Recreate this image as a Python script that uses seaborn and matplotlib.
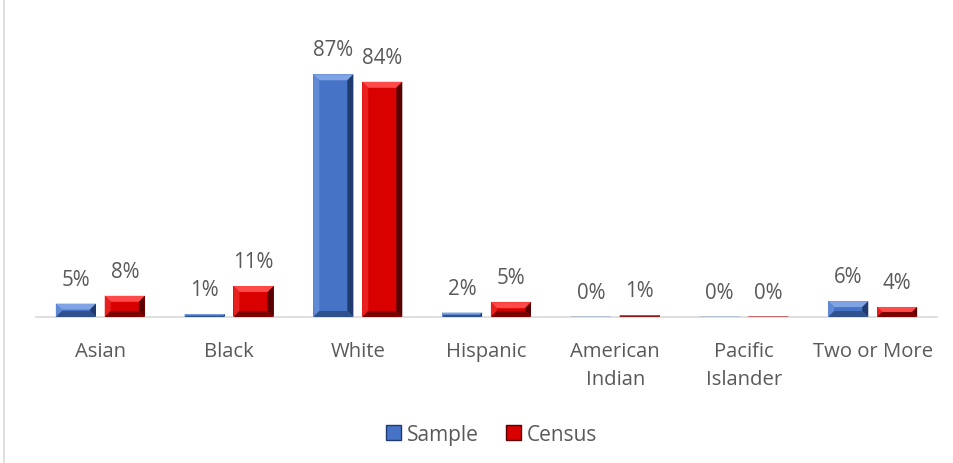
import matplotlib
matplotlib.use("Agg")
import matplotlib.pyplot as plt
from matplotlib.patches import Polygon, Patch
import seaborn as sns
import pandas as pd

# Share of respondents by race: survey sample vs. census population (percent)
categories = ["Asian", "Black", "White", "Hispanic", "American\nIndian",
              "Pacific\nIslander", "Two or More"]
sample_pct = [4.8, 1.0, 87.0, 1.6, 0.1, 0.1, 5.7]
census_pct = [7.6, 11.1, 84.3, 5.3, 0.6, 0.2, 3.6]
series = ["Sample", "Census"]

df = pd.DataFrame({
    "category": categories * 2,
    "series": [series[0]] * len(categories) + [series[1]] * len(categories),
    "value": sample_pct + census_pct,
})

sns.set_theme(style="white")
plt.rcParams["font.family"] = ["Open Sans", "DejaVu Sans"]
text_color = "#595959"

# bevel shades: main, top, left, right, bottom
shades = {
    "Sample": ["#4673C6", "#7FA3E3", "#5E8AD6", "#1F3A6E", "#2F528F"],
    "Census": ["#D90000", "#FF4A4A", "#E82020", "#5A0000", "#7D0000"],
}

fig = plt.figure(figsize=(9.54, 4.64), dpi=100)
ax = fig.add_axes([36 / 954, 146 / 464, 901 / 954, 279 / 464])

sns.barplot(data=df, x="category", y="value", hue="series", hue_order=series,
            palette=[shades[s][0] for s in series], width=0.76, gap=0.18,
            dodge=True, ax=ax, legend=False, saturation=1, linewidth=0)

ax.set_ylim(0, 100)
ax.set_xlim(-0.5, len(categories) - 0.5)
ax.set_xlabel("")
ax.set_ylabel("")
ax.set_yticks([])
for side in ["left", "right", "top"]:
    ax.spines[side].set_visible(False)
ax.spines["bottom"].set_color("#D9D9D9")
ax.spines["bottom"].set_linewidth(1.2)
ax.tick_params(axis="x", length=0, pad=17.5, labelsize=14.6, labelcolor=text_color)
for lbl in ax.get_xticklabels():
    lbl.set_linespacing(1.5)

# value labels above each bar
for cont in ax.containers:
    ax.bar_label(cont, labels=[f"{v:.0f}%" for v in cont.datavalues],
                 padding=10, fontsize=14.8, color=text_color)


def bevel(ax, patch, cols, depth=6.0):
    """Overlay a bevelled look on a bar using facets in display space."""
    x0, y0 = patch.get_x(), patch.get_y()
    w, h = patch.get_width(), patch.get_height()
    if h <= 0:
        return
    tr = ax.transData
    (X0, Y0), (X1, Y1) = tr.transform([(x0, y0), (x0 + w, y0 + h)])
    d = min(depth, (X1 - X0) / 2, (Y1 - Y0) / 2)
    inv = tr.inverted()
    facets = [
        (cols[1], [(X0, Y1), (X1, Y1), (X1 - d, Y1 - d), (X0 + d, Y1 - d)]),
        (cols[2], [(X0, Y0), (X0, Y1), (X0 + d, Y1 - d), (X0 + d, Y0 + d)]),
        (cols[3], [(X1, Y0), (X1, Y1), (X1 - d, Y1 - d), (X1 - d, Y0 + d)]),
        (cols[4], [(X0, Y0), (X1, Y0), (X1 - d, Y0 + d), (X0 + d, Y0 + d)]),
    ]
    for col, pts in facets:
        ax.add_patch(Polygon(inv.transform(pts), closed=True, facecolor=col,
                             edgecolor="none", transform=tr, zorder=3))


for s, cont in zip(series, ax.containers):
    for p in cont.patches:
        bevel(ax, p, shades[s])

handles = [Patch(facecolor=shades[s][0], edgecolor=shades[s][3], label=s)
           for s in series]
fig.legend(handles=handles, loc="center", bbox_to_anchor=(0.515, 0.062),
           ncol=2, frameon=False, fontsize=15, handlelength=0.75,
           handleheight=0.75, handletextpad=0.25, columnspacing=1.3,
           labelcolor=text_color)

# chart border on the left edge
fig.add_artist(plt.Line2D([4.5 / 954, 4.5 / 954], [0, 1], color="#D9D9D9",
                          linewidth=1.2, transform=fig.transFigure))

fig.savefig("out.png", dpi=100)
